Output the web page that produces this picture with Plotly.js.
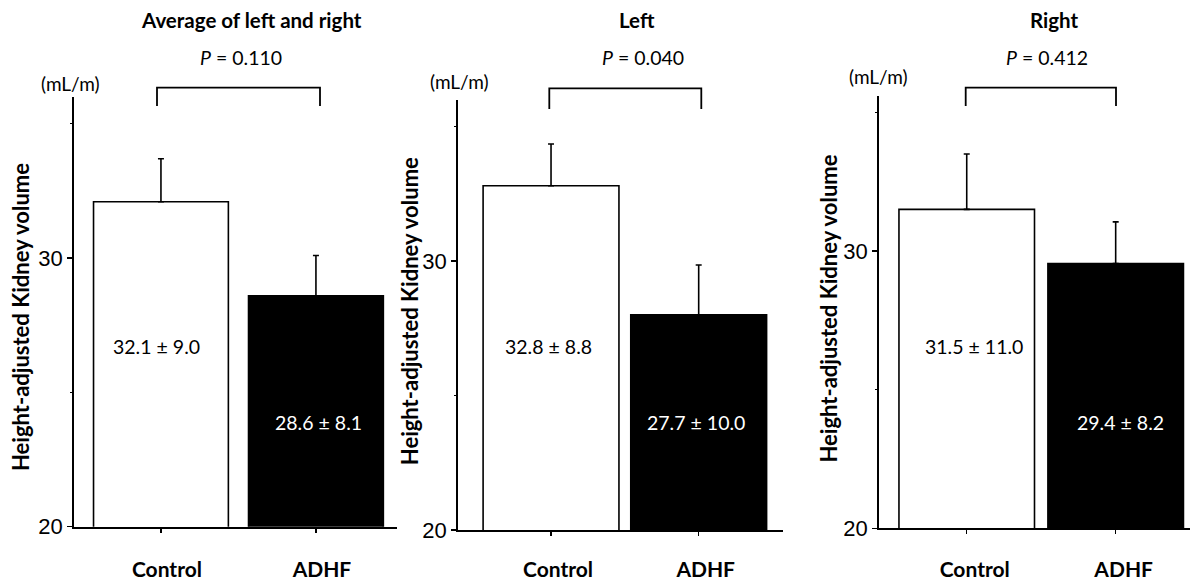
<!DOCTYPE html>
<html>
<head>
<meta charset="utf-8">
<script src="https://cdn.plot.ly/plotly-3.0.1.min.js"></script>
<style>html,body{margin:0;padding:0;background:#fff;}#chart{width:1190px;height:580px;}</style>
</head>
<body>
<div id="chart"></div>
<script>
// ---- data ----
const categories = ['Control', 'ADHF'];
const panelTitles = ['Average of left and right', 'Left', 'Right'];
const pValues = ['0.110', '0.040', '0.412'];
const meanAvg = [32.1, 28.6];
const errAvg = [1.6, 1.5];
const meanLeft = [32.8, 28.0];
const errLeft = [1.55, 1.85];
const meanRight = [31.5, 29.55];
const errRight = [2.0, 1.5];
const textAvg = ['32.1 ± 9.0', '28.6 ± 8.1'];
const textLeft = ['32.8 ± 8.8', '27.7 ± 10.0'];
const textRight = ['31.5 ± 11.0', '29.4 ± 8.2'];
const yTickVals = [20, 30];
const yTickText = ['20', '30'];
const unitLabel = '(mL/m)';
const yTitle = 'Height-adjusted Kidney volume';

// ---- layout helpers (pixel -> paper) ----
const W = 1190, H = 580;
const px = v => v / W;
const py = v => 1 - v / H;

const panels = [
  {means: meanAvg, errs: errAvg, texts: textAvg,
   xDom: [74, 397], yDom: [526.7, 97], yRange: [20, 36], xRange: [-0.561, 1.523], barW: 0.87,
   titleX: 251, pX: 240.5, unitX: 70.3, unitY: 83, yTitleX: 20, yTitleY: 317,
   bracket: [157, 320, 87.7, 106], labelX: [156.8, 318], shift: 6, standoff: 19},
  {means: meanLeft, errs: errLeft, texts: textLeft,
   xDom: [458, 783], yDom: [530, 99.6], yRange: [20, 36], xRange: [-0.63, 1.571], barW: 0.92,
   titleX: 636.7, pX: 643, unitX: 459.7, unitY: 82, yTitleX: 409.7, yTitleY: 311.5,
   bracket: [549.3, 701.3, 88.3, 109], labelX: [548.7, 696], shift: 7, standoff: 16},
  {means: meanRight, errs: errRight, texts: textRight,
   xDom: [879, 1190], yDom: [528.3, 95.7], yRange: [20, 35.6], xRange: [-0.589, 1.499], barW: 0.91,
   titleX: 1054, pX: 1047, unitX: 878.7, unitY: 76, yTitleX: 827.5, yTitleY: 309,
   bracket: [965.7, 1116, 87.7, 106], labelX: [973.8, 1120], shift: 8, standoff: 17}
];

const FONT = 'Lato, "Open Sans", sans-serif';
const data = [];
const layout = {
  width: W, height: H,
  margin: {l: 0, r: 0, t: 0, b: 0},
  paper_bgcolor: '#fff', plot_bgcolor: '#fff',
  showlegend: false,
  font: {family: FONT, color: '#000'},
  annotations: [], shapes: []
};

panels.forEach((p, i) => {
  const n = i === 0 ? '' : String(i + 1);
  const xa = 'x' + n, ya = 'y' + n;
  data.push({
    type: 'bar', x: categories, y: p.means, xaxis: xa, yaxis: ya,
    width: p.barW,
    marker: {color: ['#ffffff', '#000000'], line: {color: '#000', width: 1.6}},
    error_y: {type: 'data', symmetric: false, array: p.errs, arrayminus: [0, 0],
              color: '#000', thickness: 1.6, width: 3},
    hoverinfo: 'none'
  });
  layout['xaxis' + n] = {
    domain: [px(p.xDom[0]), px(p.xDom[1])], anchor: ya, type: 'category',
    range: p.xRange, showline: true, linecolor: '#000', linewidth: 2,
    ticks: 'outside', ticklen: 4, tickwidth: 1.5, tickcolor: '#000',
    showgrid: false, zeroline: false, fixedrange: true,
    tickfont: {family: FONT, size: 21, weight: 'bold', color: '#000'},
    ticklabelstandoff: p.standoff, ticklabelshift: p.shift
  };
  layout['yaxis' + n] = {
    domain: [py(p.yDom[0]), py(p.yDom[1])], anchor: xa,
    range: p.yRange, showline: true, linecolor: '#000', linewidth: 1.8,
    ticks: 'outside', ticklen: 5, tickwidth: 1.5, tickcolor: '#000',
    tickvals: yTickVals, ticktext: yTickText,
    minor: {dtick: 5, tick0: 20, ticks: 'outside', ticklen: 2, tickwidth: 1.2, tickcolor: '#000'},
    showgrid: false, zeroline: false, fixedrange: true,
    tickfont: {family: '"Liberation Sans Narrow", "Arial Narrow", Arial, sans-serif', size: 22, color: '#000'},
    ticklabelstandoff: 0
  };
  layout.annotations.push({xref: 'paper', yref: 'paper', x: px(p.titleX), y: py(20),
    text: '<b>' + panelTitles[i] + '</b>', showarrow: false, xanchor: 'center', yanchor: 'middle',
    font: {size: 20.5, color: '#000'}});
  layout.annotations.push({xref: 'paper', yref: 'paper', x: px(p.pX), y: py(58),
    text: '<i>P</i> = ' + pValues[i], showarrow: false, xanchor: 'center', yanchor: 'middle',
    font: {size: 19.5, color: '#000'}});
  layout.annotations.push({xref: 'paper', yref: 'paper', x: px(p.unitX), y: py(p.unitY),
    text: unitLabel, showarrow: false, xanchor: 'center', yanchor: 'middle',
    font: {size: 19, color: '#000'}});
  layout.annotations.push({xref: 'paper', yref: 'paper', x: px(p.yTitleX), y: py(p.yTitleY),
    text: '<b>' + yTitle + '</b>', textangle: -90, showarrow: false, xanchor: 'center', yanchor: 'middle',
    font: {size: 22, color: '#000'}});
  layout.annotations.push({xref: 'paper', yref: 'paper', x: px(p.labelX[0]), y: py(346.7),
    text: p.texts[0], showarrow: false, xanchor: 'center', yanchor: 'middle',
    font: {size: 19.5, color: '#000'}});
  layout.annotations.push({xref: 'paper', yref: 'paper', x: px(p.labelX[1]), y: py(422.5),
    text: p.texts[1], showarrow: false, xanchor: 'center', yanchor: 'middle',
    font: {size: 19.5, color: '#fff'}});
  const b = p.bracket;
  layout.shapes.push({type: 'path', xref: 'paper', yref: 'paper',
    path: `M ${px(b[0])} ${py(b[3])} L ${px(b[0])} ${py(b[2])} L ${px(b[1])} ${py(b[2])} L ${px(b[1])} ${py(b[3])}`,
    line: {color: '#000', width: 1.8}});
});

Plotly.newPlot('chart', data, layout, {displayModeBar: false, staticPlot: true});
</script>
</body>
</html>
